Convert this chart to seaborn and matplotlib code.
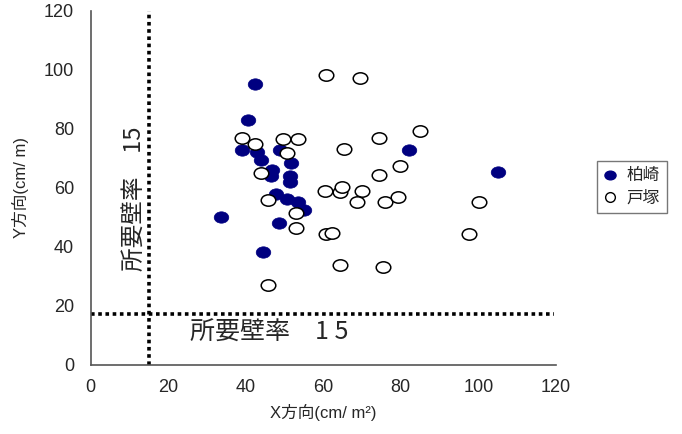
import matplotlib
matplotlib.use("Agg")
import matplotlib.pyplot as plt
import pandas as pd
import seaborn as sns
from matplotlib.path import Path
from matplotlib.transforms import Affine2D
from matplotlib.lines import Line2D

# 柏崎 (filled)
kashiwazaki_x = [42.4, 40.5, 39.0, 43.0, 43.9, 48.9, 51.7, 46.9, 46.5, 51.3,
                 51.3, 47.8, 50.7, 53.6, 54.9, 33.6, 48.7, 44.4, 82.2, 105.0]
kashiwazaki_y = [95.2, 83.1, 72.8, 72.2, 69.4, 72.8, 68.3, 66.0, 64.1, 64.1,
                 62.1, 58.1, 56.2, 55.3, 52.5, 50.2, 48.0, 38.3, 72.8, 65.5]

# 戸塚 (open)
totsuka_x = [60.8, 69.6, 39.0, 42.4, 49.7, 53.6, 50.7, 65.3, 74.4, 85.0,
             79.7, 74.4, 43.9, 45.8, 60.5, 64.2, 64.9, 70.1, 68.6, 75.9,
             79.4, 53.0, 53.0, 60.7, 62.3, 64.2, 75.4, 45.8, 100.1, 97.7]
totsuka_y = [98.4, 97.4, 77.0, 74.8, 76.5, 76.5, 71.7, 73.3, 77.0, 79.2,
             67.3, 64.3, 65.1, 55.8, 59.0, 58.7, 60.2, 59.0, 55.1, 55.1,
             56.9, 51.4, 46.4, 44.3, 44.8, 33.9, 33.2, 27.1, 55.1, 44.3]

required_x = 15
required_y = 17.2
labels = ["柏崎", "戸塚"]

sns.set_style("white")
plt.rcParams["font.family"] = ["Liberation Sans", "Noto Sans CJK JP", "DejaVu Sans"]

ellipse = Path.unit_circle().transformed(Affine2D().scale(1.28, 1.0))

fig = plt.figure(figsize=(6.82, 4.34), dpi=100)
ax = fig.add_axes([0.133, 0.159, 0.682, 0.816])

df_k = pd.DataFrame({"x": kashiwazaki_x, "y": kashiwazaki_y})
df_t = pd.DataFrame({"x": totsuka_x, "y": totsuka_y})

sns.scatterplot(data=df_k, x="x", y="y", ax=ax, marker=ellipse, s=110,
                color="#000080", edgecolor="#000080", linewidth=0.5, zorder=3)
sns.scatterplot(data=df_t, x="x", y="y", ax=ax, marker=ellipse, s=110,
                facecolor="white", edgecolor="black", linewidth=1.1, zorder=4)

ax.axvline(required_x, color="black", linestyle=(0, (1, 1)), linewidth=2.6, zorder=2)
ax.plot([0, 119.5], [required_y, required_y], color="black",
        linestyle=(0, (1, 1)), linewidth=2.6, zorder=2)

cjk = ["Noto Sans CJK JP", "DejaVu Sans"]
ax.text(25.5, 11.0, "所要壁率　1 5", fontsize=18, family=cjk, va="center", ha="left")
ax.text(11.3, 56.5, "所要壁率　15", fontsize=17, family=cjk, rotation=90,
        va="center", ha="center")

ax.set_xlim(0, 120)
ax.set_ylim(0, 120)
ax.set_xticks(range(0, 121, 20))
ax.set_yticks(range(0, 121, 20))
ax.tick_params(direction="in", length=5, width=1, color="#555555",
               labelsize=13, pad=10)
ax.tick_params(axis="y", pad=12)
for side in ["top", "right"]:
    ax.spines[side].set_visible(False)
for side in ["left", "bottom"]:
    ax.spines[side].set_color("#555555")
    ax.spines[side].set_linewidth(1.2)

ax.set_xlabel("X方向(cm/ m²)", fontsize=12, labelpad=6)
ax.set_ylabel("Y方向(cm/ m)", fontsize=12, labelpad=11)

handles = [
    Line2D([], [], marker=ellipse, linestyle="", markersize=8,
           markerfacecolor="#000080", markeredgecolor="#000080"),
    Line2D([], [], marker="o", linestyle="", markersize=7,
           markerfacecolor="white", markeredgecolor="black"),
]
leg = fig.legend(handles, labels, loc="upper left", bbox_to_anchor=(0.863, 0.649),
                 frameon=True, fancybox=False, handlelength=0.8,
                 handletextpad=0.6, borderpad=0.4, labelspacing=0.3,
                 prop={"family": cjk, "size": 12})
leg.get_frame().set_edgecolor("#555555")
leg.get_frame().set_linewidth(1.0)

fig.savefig("out.png", dpi=100)
